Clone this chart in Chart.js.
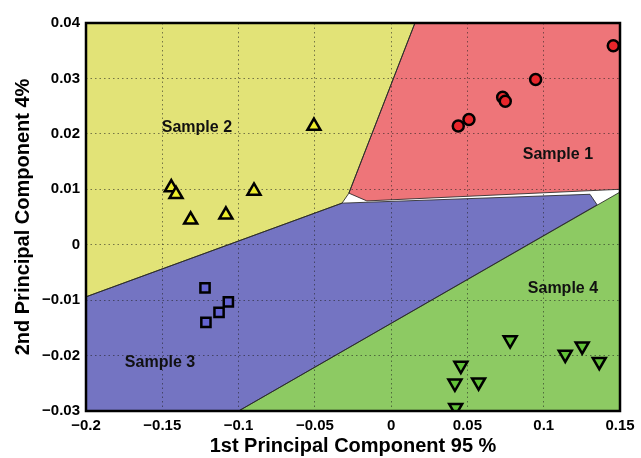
<!DOCTYPE html>
<html>
<head>
<meta charset="utf-8">
<script src="https://cdn.jsdelivr.net/npm/chart.js@4.4.1/dist/chart.umd.min.js"></script>
<style>
    html, body { margin: 0; padding: 0; background: #fff; }
</style>
</head>
<body>
<canvas id="pcaChart" width="641" height="458"></canvas>
<script>
// 축 눈금
const xTicks = [-0.2, -0.15, -0.1, -0.05, 0, 0.05, 0.1, 0.15];
const xTickLabels = ['\u22120.2', '\u22120.15', '\u22120.1', '\u22120.05', '0', '0.05', '0.1', '0.15'];
const yTicks = [-0.03, -0.02, -0.01, 0, 0.01, 0.02, 0.03, 0.04];
const yTickLabels = ['\u22120.03', '\u22120.02', '\u22120.01', '0', '0.01', '0.02', '0.03', '0.04'];

// 샘플별 PCA 점수 (PC1, PC2)
const sample1X = [0.1456, 0.0947, 0.0731, 0.0748, 0.0510, 0.0440];
const sample1Y = [0.0359, 0.0298, 0.0266, 0.0259, 0.0226, 0.0214];
const sample2X = [-0.1441, -0.1410, -0.1314, -0.1083, -0.0899, -0.0506];
const sample2Y = [0.0103, 0.0091, 0.0045, 0.0054, 0.0097, 0.0214];
const sample3X = [-0.1220, -0.1067, -0.1128, -0.1214];
const sample3Y = [-0.0078, -0.0103, -0.0122, -0.0140];
const sample4X = [0.0780, 0.1141, 0.1252, 0.1364, 0.0457, 0.0418, 0.0573, 0.0423];
const sample4Y = [-0.0172, -0.0198, -0.0183, -0.0211, -0.0218, -0.0250, -0.0248, -0.0294];

// 분류 영역 경계 (다각형 꼭짓점)
const region1X = [0.0156, 0.15, 0.15, -0.0159, -0.0277];
const region1Y = [0.04, 0.04, 0.0100, 0.0079, 0.0093];
const region2X = [-0.2, 0.0156, -0.0277, -0.0322, -0.2];
const region2Y = [0.04, 0.04, 0.0093, 0.0075, -0.0094];
const region3X = [-0.2, -0.0322, 0.1303, 0.135, -0.1, -0.2];
const region3Y = [-0.0094, 0.0075, 0.0091, 0.0072, -0.03, -0.03];
const region4X = [-0.1, 0.15, 0.15];
const region4Y = [-0.03, -0.03, 0.0095];

// 영역 라벨
const labelTexts = ['Sample 1', 'Sample 2', 'Sample 3', 'Sample 4'];
const labelX = [0.1093, -0.1273, -0.1515, 0.1126];
const labelY = [0.0162, 0.0211, -0.0212, -0.0080];

const FONT = '"Liberation Sans", Arial, Helvetica, sans-serif';

function toPoints(xs, ys) {
    return xs.map((x, i) => ({ x: x, y: ys[i] }));
}

// 닫힌 다각형 (첫 점을 끝에 한 번 더)
function toPolygon(xs, ys) {
    const pts = toPoints(xs, ys);
    pts.push({ x: xs[0], y: ys[0] });
    return pts;
}

function regionDataset(xs, ys, color) {
    return {
        data: toPolygon(xs, ys),
        showLine: true,
        fill: 'shape',
        backgroundColor: color,
        borderColor: 'rgba(40, 40, 40, 0.85)',
        borderWidth: 1,
        pointRadius: 0,
        tension: 0,
        order: 10
    };
}

function sampleDataset(xs, ys, color, style, radius, rotation) {
    return {
        data: toPoints(xs, ys),
        backgroundColor: color,
        borderColor: '#000',
        borderWidth: 2.5,
        pointStyle: style,
        pointRadius: radius,
        rotation: rotation || 0,
        order: 1
    };
}

// 영역 라벨 그리기
const labelPlugin = {
    id: 'sampleLabels',
    afterDatasetsDraw(chart) {
        const ctx = chart.ctx;
        const xs = chart.scales.x;
        const ys = chart.scales.y;
        ctx.save();
        ctx.font = 'bold 16px ' + FONT;
        ctx.fillStyle = '#111';
        ctx.textAlign = 'center';
        ctx.textBaseline = 'middle';
        labelTexts.forEach((t, i) => {
            ctx.fillText(t, xs.getPixelForValue(labelX[i]), ys.getPixelForValue(labelY[i]));
        });
        ctx.restore();
    }
};

// 플롯 테두리
const framePlugin = {
    id: 'frame',
    afterDraw(chart) {
        const a = chart.chartArea;
        const ctx = chart.ctx;
        ctx.save();
        ctx.strokeStyle = '#000';
        ctx.lineWidth = 2.5;
        ctx.strokeRect(a.left, a.top, a.right - a.left, a.bottom - a.top);
        ctx.restore();
    }
};

const ctx = document.getElementById('pcaChart').getContext('2d');
new Chart(ctx, {
    type: 'scatter',
    data: {
        datasets: [
            sampleDataset(sample1X, sample1Y, '#e8262b', 'circle', 5.5),
            sampleDataset(sample2X, sample2Y, '#ecec2c', 'triangle', 7.5),
            sampleDataset(sample3X, sample3Y, '#6464d2', 'rect', 6.5),
            sampleDataset(sample4X, sample4Y, '#62c238', 'triangle', 7.5, 180),
            regionDataset(region1X, region1Y, '#ee7579'),
            regionDataset(region2X, region2Y, '#e2e377'),
            regionDataset(region3X, region3Y, '#7474c2'),
            regionDataset(region4X, region4Y, '#8dca63')
        ]
    },
    options: {
        responsive: false,
        animation: false,
        layout: {
            padding: { left: 0, right: 21, top: 23, bottom: 0 }
        },
        plugins: {
            legend: { display: false },
            tooltip: { enabled: false },
            filler: { drawTime: 'beforeDraw' }
        },
        scales: {
            x: {
                type: 'linear',
                min: -0.2,
                max: 0.15,
                afterBuildTicks: (scale) => {
                    scale.ticks = xTicks.map(v => ({ value: v }));
                },
                afterFit: (scale) => {
                    scale.height = 47;
                },
                ticks: {
                    padding: 6,
                    color: '#000',
                    maxRotation: 0,
                    font: { family: FONT, size: 15, weight: 'bold' },
                    callback: (value, index) => xTickLabels[index]
                },
                grid: {
                    color: 'rgba(30, 30, 30, 0.55)',
                    lineWidth: 1,
                    drawTicks: false
                },
                border: { display: false, dash: [1.5, 3] },
                title: {
                    display: true,
                    text: '1st Principal Component 95 %',
                    color: '#000',
                    padding: { top: 0, bottom: 0 },
                    font: { family: FONT, size: 20, weight: 'bold' }
                }
            },
            y: {
                type: 'linear',
                min: -0.03,
                max: 0.04,
                afterBuildTicks: (scale) => {
                    scale.ticks = yTicks.map(v => ({ value: v }));
                },
                afterFit: (scale) => {
                    scale.width = 86;
                },
                ticks: {
                    padding: 6,
                    color: '#000',
                    font: { family: FONT, size: 15, weight: 'bold' },
                    callback: (value, index) => yTickLabels[index]
                },
                grid: {
                    color: 'rgba(30, 30, 30, 0.55)',
                    lineWidth: 1,
                    drawTicks: false
                },
                border: { display: false, dash: [1.5, 3] },
                title: {
                    display: true,
                    text: '2nd Principal Component 4%',
                    color: '#000',
                    padding: { top: 11, bottom: 0 },
                    font: { family: FONT, size: 20, weight: 'bold' }
                }
            }
        }
    },
    plugins: [labelPlugin, framePlugin]
});
</script>
</body>
</html>
